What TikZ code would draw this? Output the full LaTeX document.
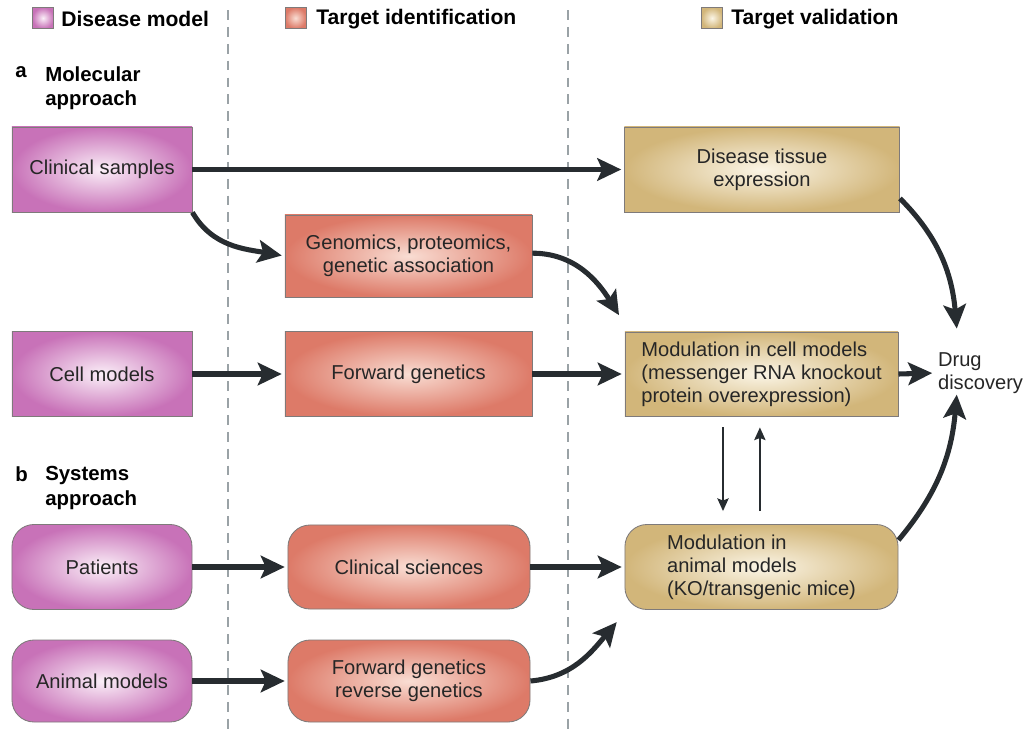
\documentclass[tikz,border=0pt]{standalone}
\usepackage{fontspec}
\setmainfont{Liberation Sans}
\usetikzlibrary{arrows.meta,calc}
\definecolor{pinkO}{HTML}{C872B8}
\definecolor{pinkI}{HTML}{FBEFF8}
\definecolor{oraO}{HTML}{DD7A68}
\definecolor{oraI}{HTML}{F9DDD3}
\definecolor{tanO}{HTML}{D2B67A}
\definecolor{tanI}{HTML}{FBF5E6}
\definecolor{edgecol}{HTML}{7E7A7A}
\definecolor{arrcol}{HTML}{272C30}
\definecolor{dashcol}{HTML}{9AA2A6}
\tikzset{
  box/.style={draw=edgecol, line width=0.6pt, inner sep=2pt, align=center,
    font=\fontsize{14.3}{16.4}\selectfont, text=black!85},
  dm/.style={box, inner color=pinkI, outer color=pinkO, minimum width=4.5cm, minimum height=2.125cm},
  ti/.style={box, inner color=oraI, outer color=oraO},
  tv/.style={box, inner color=tanI, outer color=tanO},
  rnd/.style={rounded corners=0.55cm},
  big/.style={-{Stealth[length=17pt,width=16pt,inset=3.5pt]}, line width=3.6pt, draw=arrcol, shorten >=2pt},
  small/.style={-{Stealth[length=9pt,width=8pt,inset=1.5pt]}, line width=1.4pt, draw=arrcol},
  head/.style={font=\fontsize{15}{18}\selectfont\bfseries, anchor=west, inner sep=0pt},
  sec/.style={font=\fontsize{14.5}{17.5}\selectfont\bfseries, anchor=north west, inner sep=0pt, align=left},
  sq/.style={draw=edgecol, line width=0.6pt, minimum size=0.525cm, inner sep=0pt},
  sep/.style={draw=dashcol, line width=1.6pt, dash pattern=on 7pt off 5pt}
}
\begin{document}
\begin{tikzpicture}[x=0.025cm,y=-0.025cm]
\useasboundingbox (0,0) rectangle (1027,732);
% dashed separators
\coordinate (d1a) at (228,10); \coordinate (d1b) at (228,732);
\coordinate (d2a) at (568,10); \coordinate (d2b) at (568,732);
\draw[sep] (d1a) -- (d1b);
\draw[sep] (d2a) -- (d2b);
% legend
\node[sq, inner color=pinkI, outer color=pinkO] (lg1) at (43,18) {};
\node[head] (lt1) at (61,19) {Disease model};
\node[sq, inner color=oraI, outer color=oraO] (lg2) at (295.5,18) {};
\node[head] (lt2) at (316,19) {Target identification};
\node[sq, inner color=tanI, outer color=tanO] (lg3) at (712,18) {};
\node[head] (lt3) at (731,19) {Target validation};
% section labels
\node[sec] (la) at (15,66) {a};
\node[sec] (lat) at (45,66) {Molecular\\approach};
\node[sec] (lb) at (15,466) {b};
\node[sec] (lbt) at (45,466) {Systems\\approach};
% molecular approach
\node[dm] (cs) at (102,169.5) {Clinical samples};
\node[dm] (cm) at (102,374) {Cell models};
\node[ti, minimum width=6.175cm, minimum height=2.05cm] (gp) at (408.5,256) {Genomics, proteomics,\\genetic association};
\node[ti, minimum width=6.175cm, minimum height=2.125cm] (fg) at (408.5,374) {Forward genetics};
\node[tv, minimum width=6.875cm, minimum height=2.125cm] (dt) at (762,169.5) {Disease tissue\\expression};
\node[tv, minimum width=6.825cm, minimum height=2.1cm, align=left] (mc) at (761.5,374) {Modulation in cell models\\(messenger RNA knockout\\protein overexpression)};
\node[font=\fontsize{14.3}{16.4}\selectfont, align=left, anchor=west, inner sep=2pt, text=black!85] (dd) at (935,373) {Drug\\discovery};
% systems approach
\node[dm, rnd] (pt) at (102,567) {Patients};
\node[dm, rnd, minimum height=2.05cm] (am) at (102,681) {Animal models};
\node[ti, rnd, minimum width=6.05cm, minimum height=2.1cm] (cl) at (409,567) {Clinical sciences};
\node[ti, rnd, minimum width=6.05cm, minimum height=2.05cm] (fr) at (409,681) {Forward genetics\\reverse genetics};
\node[tv, rnd, minimum width=6.825cm, minimum height=2.125cm, align=left] (ma) at (761.5,567) {Modulation in\\animal models\\(KO/transgenic mice)};
% connectors
\draw[big] (cs.east) -- (dt.west);
\draw[big] (cs.south east) to[out=-60,in=170] (gp.west);
\draw[big] ([yshift=2pt]gp.east) to[out=0,in=122] ([xshift=-0.1cm,yshift=0.35cm]mc.north west);
\draw[big] (cm.east) -- (fg.west);
\draw[big] (fg.east) -- (mc.west);
\draw[big] (mc.east) -- (dd.west);
\draw[big] ([yshift=0.35cm]dt.south east) to[out=-45,in=95] ([xshift=0.55cm,yshift=0.45cm]dd.north west);
\draw[big] ([yshift=-0.4cm]ma.north east) to[out=50,in=-95] ([xshift=0.55cm,yshift=0.12cm]dd.south west);
\draw[small] ([xshift=-0.9625cm,yshift=-0.275cm]mc.south) -- ([xshift=-0.9625cm,yshift=0.325cm]ma.north);
\draw[small] ([xshift=-0.04cm,yshift=0.325cm]ma.north) -- ([xshift=-0.04cm,yshift=-0.275cm]mc.south);
\draw[big] (pt.east) -- (cl.west);
\draw[big] (cl.east) -- (ma.west);
\draw[big] (am.east) -- (fr.west);
\draw[big] (fr.east) to[out=5,in=-130] ([xshift=-0.15cm,yshift=-0.25cm]ma.south west);
\end{tikzpicture}
\end{document}
